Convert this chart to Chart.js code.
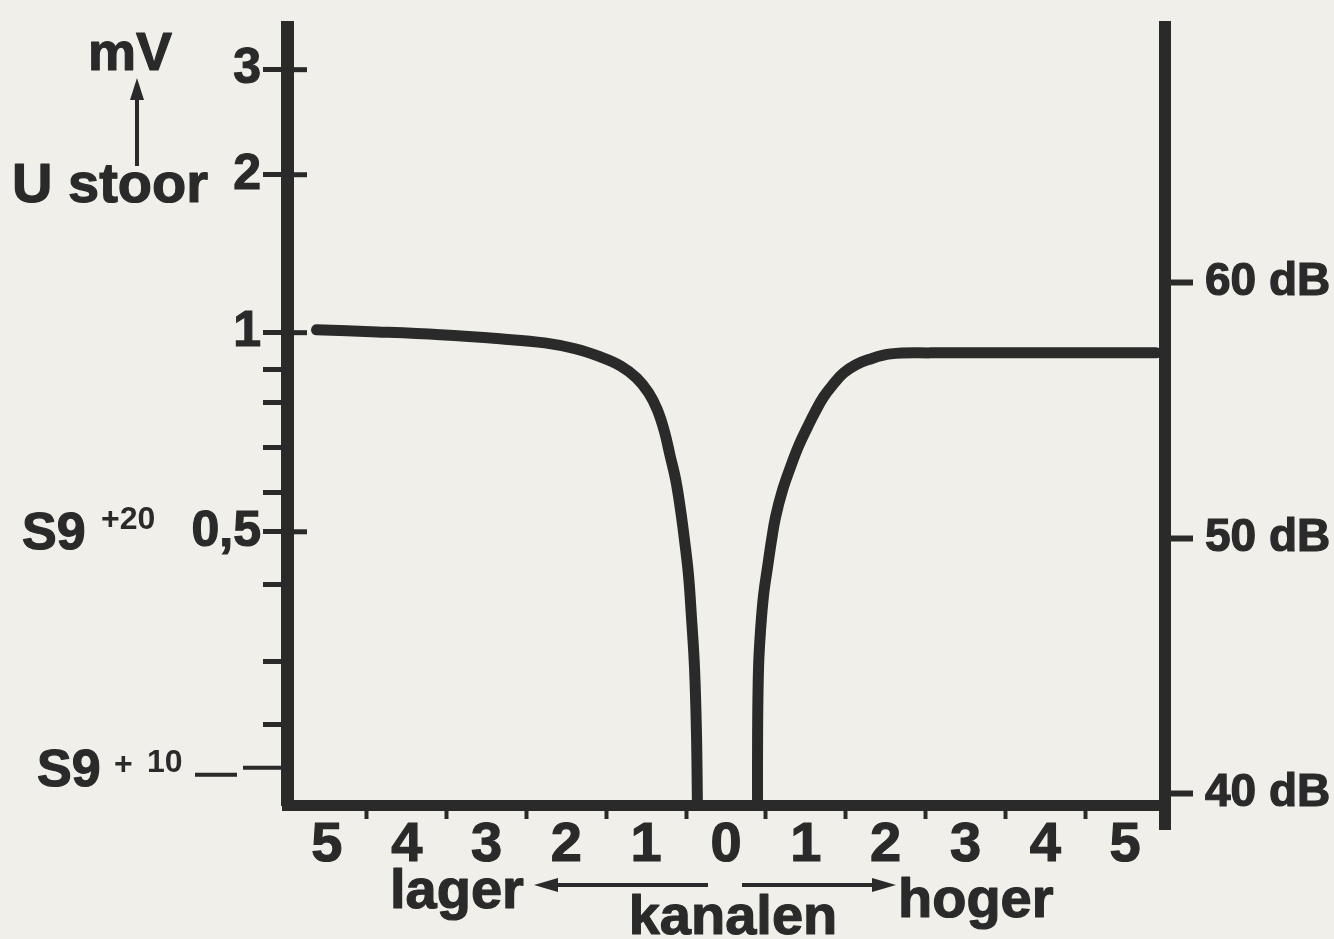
<!DOCTYPE html>
<html>
<head>
<meta charset="utf-8">
<title>U stoor - kanalen</title>
<script src="https://cdn.jsdelivr.net/npm/chart.js@4.4.1/dist/chart.umd.min.js"></script>
<style>
    html, body { margin: 0; padding: 0; background: #f1efe9; }
    canvas { display: block; }
</style>
</head>
<body>
<canvas id="stoorChart" width="1334" height="939"></canvas>
<script>
// kanalen lager (links van 0) en hoger (rechts van 0); niveau in dB
const channelLower = [-5.13, -4.37, -3.58, -2.83, -2.27, -1.89, -1.58, -1.32, -1.12, -0.97, -0.86, -0.77, -0.70, -0.63, -0.57, -0.52, -0.47, -0.433, -0.395, -0.37, -0.358];
const levelLower   = [58.15, 58.07, 57.96, 57.80, 57.64, 57.41, 57.10, 56.74, 56.27, 55.69, 55.02, 54.16, 53.22, 52.28, 51.11, 49.93, 48.56, 46.92, 44.96, 42.38, 39.6];
const channelHigher = [0.395, 0.396, 0.408, 0.433, 0.471, 0.521, 0.571, 0.621, 0.709, 0.809, 0.910, 1.023, 1.123, 1.223, 1.349, 1.474, 1.625, 1.776, 2.064, 2.566, 4.07, 5.39];
const levelHigher   = [39.6, 42.38, 44.96, 46.41, 47.78, 48.88, 49.93, 50.83, 51.89, 52.79, 53.61, 54.36, 54.98, 55.53, 56.04, 56.47, 56.78, 56.98, 57.21, 57.25, 57.25, 57.25];

// x-as: cijfers op hele kanalen, streepjes op halve
const xLabelValues = [-5, -4, -3, -2, -1, 0, 1, 2, 3, 4, 5];
const xMarkValues = [-4.5, -3.5, -2.5, -1.5, -0.5, 0.5, 1.5, 2.5, 3.5, 4.5];

const leftTickValues = [68.33, 64.22, 58.04, 56.59, 55.30, 53.53, 51.77, 50.25, 48.18, 45.16, 42.70];
const leftTickLabels = ['3', '2', '1', '', '', '', '', '0,5', '', '', ''];
const leftMajorValues = [68.33, 64.22, 58.04, 50.25];
const s9plus10Value = 41.02;

// rechter as
const rightTickValues = [40, 50, 60];
const rightTickLabels = ['40 dB', '50 dB', '60 dB'];

const INK = '#2a2a2b';
const FONT = "'Liberation Sans', Arial, sans-serif";

function toPoints(xs, ys) {
    return xs.map(function (x, i) { return { x: x, y: ys[i] }; });
}

function noScalePadding(scale) {
    scale.paddingTop = 0;
    scale.paddingBottom = 0;
    scale.paddingLeft = 0;
    scale.paddingRight = 0;
}

function boldText(ctx, text, x, y) {
    ctx.fillText(text, x, y);
    ctx.strokeText(text, x, y);
}

function drawArrowHead(ctx, tipX, tipY, dirX, dirY, len, half) {
    const bx = tipX - dirX * len, by = tipY - dirY * len;
    ctx.beginPath();
    ctx.moveTo(tipX, tipY);
    ctx.lineTo(bx - dirY * half, by + dirX * half);
    ctx.lineTo(bx + dirY * half, by - dirX * half);
    ctx.closePath();
    ctx.fill();
}

const annotations = {
    id: 'annotations',
    afterDraw: function (chart) {
        const ctx = chart.ctx;
        const area = chart.chartArea;
        const yScale = chart.scales.y;
        ctx.save();
        ctx.fillStyle = INK;
        ctx.strokeStyle = INK;
        ctx.lineCap = 'butt';
        ctx.lineJoin = 'round';

        // korte streepjes binnen de as bij de hoofdwaarden
        ctx.lineWidth = 5;
        leftMajorValues.forEach(function (v) {
            const py = yScale.getPixelForValue(v);
            ctx.beginPath();
            ctx.moveTo(area.left, py);
            ctx.lineTo(area.left + 20, py);
            ctx.stroke();
        });

        // rechter as loopt iets door onder de x-as
        ctx.lineWidth = 12;
        ctx.beginPath();
        ctx.moveTo(area.right, area.bottom);
        ctx.lineTo(area.right, area.bottom + 25);
        ctx.stroke();

        // mV met pijl omhoog en U stoor
        ctx.textBaseline = 'alphabetic';
        ctx.textAlign = 'center';
        ctx.font = 'bold 54px ' + FONT;
        ctx.lineWidth = 1.2;
        boldText(ctx, 'mV', 130, 70);
        ctx.lineWidth = 4;
        ctx.beginPath();
        ctx.moveTo(137, 166);
        ctx.lineTo(137, 96);
        ctx.stroke();
        drawArrowHead(ctx, 137, 78, 0, -1, 22, 7);
        ctx.textAlign = 'left';
        ctx.lineWidth = 1.2;
        ctx.font = 'bold 56px ' + FONT;
        boldText(ctx, 'U stoor', 12, 202);

        // S9 +20 naast 0,5
        const y05 = yScale.getPixelForValue(50.25);
        ctx.font = 'bold 52px ' + FONT;
        boldText(ctx, 'S9', 22, y05 + 17);
        ctx.font = 'bold 32px ' + FONT;
        ctx.fillText('+20', 101, y05 - 3);

        // S9 +10 met streepje
        const y10 = yScale.getPixelForValue(s9plus10Value);
        ctx.font = 'bold 52px ' + FONT;
        boldText(ctx, 'S9', 37, y10 + 18);
        ctx.font = 'bold 32px ' + FONT;
        ctx.fillText('+', 114, y10 + 6);
        ctx.fillText('10', 147, y10 + 4);
        ctx.lineWidth = 4;
        ctx.beginPath();
        ctx.moveTo(195, y10 + 7);
        ctx.lineTo(237, y10 + 7);
        ctx.moveTo(243, y10);
        ctx.lineTo(area.left, y10);
        ctx.stroke();

        // onderschrift: lager <- kanalen -> hoger
        ctx.font = 'bold 56px ' + FONT;
        ctx.lineWidth = 1.2;
        boldText(ctx, 'lager', 390, 908);
        boldText(ctx, 'hoger', 898, 917);
        ctx.textAlign = 'center';
        boldText(ctx, 'kanalen', 733, 934);
        ctx.lineWidth = 4;
        ctx.beginPath();
        ctx.moveTo(552, 885);
        ctx.lineTo(708, 885);
        ctx.moveTo(742, 885);
        ctx.lineTo(878, 885);
        ctx.stroke();
        drawArrowHead(ctx, 534, 885, -1, 0, 24, 7);
        drawArrowHead(ctx, 896, 885, 1, 0, 24, 7);

        ctx.restore();
    }
};

document.addEventListener('DOMContentLoaded', function () {
    const canvas = document.getElementById('stoorChart');
    if (!canvas || typeof Chart === 'undefined') return;

    Chart.defaults.font.family = FONT;
    Chart.defaults.color = INK;

    const lineStyle = {
        borderColor: INK,
        borderWidth: 11,
        pointRadius: 0,
        fill: false,
        tension: 0.4,
        borderCapStyle: 'round',
        borderJoinStyle: 'round'
    };

    const tickText = { textStrokeColor: INK, textStrokeWidth: 1.2 };

    new Chart(canvas.getContext('2d'), {
        type: 'line',
        data: {
            datasets: [
                Object.assign({ label: 'lager', data: toPoints(channelLower, levelLower) }, lineStyle),
                Object.assign({ label: 'hoger', data: toPoints(channelHigher, levelHigher) }, lineStyle)
            ]
        },
        options: {
            responsive: false,
            animation: false,
            events: [],
            layout: { padding: { top: 27, left: 0, right: 0, bottom: 0 } },
            plugins: {
                legend: { display: false },
                tooltip: { enabled: false }
            },
            scales: {
                x: {
                    type: 'linear',
                    position: 'bottom',
                    min: -5.5,
                    max: 5.5,
                    afterBuildTicks: function (scale) {
                        scale.ticks = xLabelValues.concat(xMarkValues)
                            .sort(function (a, b) { return a - b; })
                            .map(function (v) { return { value: v }; });
                    },
                    afterFit: function (scale) { scale.height = 134; noScalePadding(scale); },
                    border: { display: true, color: INK, width: 11 },
                    grid: {
                        drawOnChartArea: false,
                        drawTicks: true,
                        tickLength: 14,
                        tickWidth: 4,
                        tickColor: function (ctx) {
                            return ctx.tick && Number.isInteger(ctx.tick.value) ? 'rgba(0,0,0,0)' : INK;
                        }
                    },
                    ticks: Object.assign({
                        autoSkip: false,
                        maxRotation: 0,
                        padding: -7,
                        color: INK,
                        font: { size: 56, weight: 'bold' },
                        callback: function (v) {
                            return Number.isInteger(v) ? String(Math.abs(v)) : '';
                        }
                    }, tickText)
                },
                y: {
                    type: 'linear',
                    position: 'left',
                    min: 39.56,
                    max: 70.0,
                    afterBuildTicks: function (scale) {
                        scale.ticks = leftTickValues.map(function (v) { return { value: v }; });
                    },
                    afterFit: function (scale) { scale.width = 287; noScalePadding(scale); },
                    border: { display: true, color: INK, width: 13 },
                    grid: { drawOnChartArea: false, tickLength: 24, tickWidth: 5, tickColor: INK },
                    ticks: Object.assign({
                        autoSkip: false,
                        padding: 2,
                        color: INK,
                        font: { size: 50, weight: 'bold' },
                        callback: function (v, i) { return leftTickLabels[i]; }
                    }, tickText)
                },
                y2: {
                    type: 'linear',
                    position: 'right',
                    min: 39.56,
                    max: 70.0,
                    afterBuildTicks: function (scale) {
                        scale.ticks = rightTickValues.map(function (v) { return { value: v }; });
                    },
                    afterFit: function (scale) { scale.width = 169; noScalePadding(scale); },
                    border: { display: true, color: INK, width: 12 },
                    grid: { drawOnChartArea: false, tickLength: 28, tickWidth: 6, tickColor: INK },
                    ticks: Object.assign({
                        autoSkip: false,
                        padding: 12,
                        color: INK,
                        font: { size: 46, weight: 'bold' },
                        callback: function (v, i) { return rightTickLabels[i]; }
                    }, tickText)
                }
            }
        },
        plugins: [annotations]
    });
});
</script>
</body>
</html>
